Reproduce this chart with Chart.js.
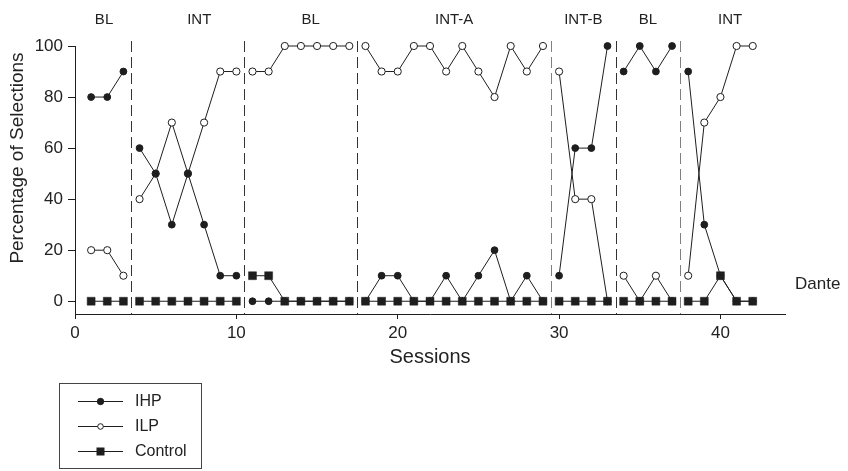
<!DOCTYPE html>
<html>
<head>
<meta charset="utf-8">
<script src="https://cdn.jsdelivr.net/npm/chart.js@4/dist/chart.umd.min.js"></script>
<style>
  html, body { margin: 0; padding: 0; background: #fff; }
  #wrap { width: 848px; height: 471px; position: relative; }
</style>
</head>
<body>
<div id="wrap"><canvas id="c" width="848" height="471"></canvas></div>
<script>
// ---- data ----
const sessions = [1,2,3,4,5,6,7,8,9,10,11,12,13,14,15,16,17,18,19,20,21,22,23,24,25,26,27,28,29,30,31,32,33,34,35,36,37,38,39,40,41,42];
const ihp     = [80,80,90, 60,50,30,50,30,10,10, 0,0,0,0,0,0,0, 0,10,10,0,0,10,0,10,20,0,10,0, 10,60,60,100, 90,100,90,100, 90,30,10,0,0];
const ilp     = [20,20,10, 40,50,70,50,70,90,90, 90,90,100,100,100,100,100, 100,90,90,100,100,90,100,90,80,100,90,100, 90,40,40,0, 10,0,10,0, 10,70,80,100,100];
const control = [0,0,0, 0,0,0,0,0,0,0, 10,10,0,0,0,0,0, 0,0,0,0,0,0,0,0,0,0,0,0, 0,0,0,0, 0,0,0,0, 0,0,10,0,0];
const phaseBreaks = [3.5, 10.5, 17.5, 29.5, 33.5, 37.5];
const phaseLabels = ['BL', 'INT', 'BL', 'INT-A', 'INT-B', 'BL', 'INT'];
const phaseLabelSession = [1.8, 7.7, 14.6, 23.5, 31.5, 35.5, 40.6];
const xTicks = [0, 10, 20, 30, 40];
const yTicks = [0, 20, 40, 60, 80, 100];
const seriesNames = ['IHP', 'ILP', 'Control'];
const participant = 'Dante';
const xTitle = 'Sessions';
const yTitle = 'Percentage of Selections';

// ---- build data with gaps at phase changes ----
function build(values) {
  const out = [];
  for (let i = 0; i < sessions.length; i++) {
    if (i > 0) {
      for (const b of phaseBreaks) {
        if (sessions[i - 1] < b && sessions[i] > b) out.push({ x: b, y: null });
      }
    }
    out.push({ x: sessions[i], y: values[i] });
  }
  return out;
}

const INK = '#1e1e1e';
const FONT = '"Liberation Sans", Arial, Helvetica, sans-serif';

const decor = {
  id: 'decor',
  beforeDatasetsDraw(chart) {
    const ctx = chart.ctx, x = chart.scales.x, a = chart.chartArea;
    ctx.save();
    ctx.lineWidth = 1;
    phaseBreaks.forEach((b, i) => {
      const px = Math.round(x.getPixelForValue(b)) + 0.5;
      ctx.strokeStyle = (i === 3 || i === 5) ? '#808080' : '#333';
      ctx.setLineDash([11, 5]);
      ctx.beginPath();
      ctx.moveTo(px, 41);
      ctx.lineTo(px, a.bottom);
      ctx.stroke();
    });
    ctx.restore();
  },
  afterDraw(chart) {
    const ctx = chart.ctx, x = chart.scales.x, y = chart.scales.y, a = chart.chartArea;
    ctx.save();
    ctx.fillStyle = '#222';
    // phase labels
    ctx.font = '15px ' + FONT;
    ctx.textAlign = 'center';
    ctx.textBaseline = 'middle';
    phaseLabels.forEach((t, i) => {
      ctx.fillText(t, x.getPixelForValue(phaseLabelSession[i]), 20);
    });
    // participant
    ctx.font = '17px ' + FONT;
    ctx.textAlign = 'left';
    ctx.fillText(participant, 795, 284);
    // axis titles
    ctx.font = '20px ' + FONT;
    ctx.textAlign = 'center';
    ctx.fillText(xTitle, (a.left + a.right) / 2, 357);
    ctx.save();
    ctx.translate(18, 158);
    ctx.rotate(-Math.PI / 2);
    ctx.font = '19px ' + FONT;
    ctx.fillText(yTitle, 0, 0);
    ctx.restore();
    // legend
    ctx.strokeStyle = '#444';
    ctx.lineWidth = 1;
    ctx.setLineDash([]);
    ctx.strokeRect(59.5, 383.5, 142, 85);
    const rows = [401, 426, 451];
    chart.data.datasets.forEach((ds, i) => {
      const ry = rows[i];
      ctx.strokeStyle = INK;
      ctx.beginPath();
      ctx.moveTo(78, ry + 0.5);
      ctx.lineTo(123, ry + 0.5);
      ctx.stroke();
      ctx.beginPath();
      if (ds.pointStyle === 'rect') {
        ctx.fillStyle = INK;
        ctx.fillRect(96.5, ry - 3.5, 8, 8);
      } else {
        ctx.arc(100.5, ry + 0.5, i === 0 ? 3.2 : 2.8, 0, Math.PI * 2);
        ctx.fillStyle = ds.pointBackgroundColor;
        ctx.fill();
        ctx.strokeStyle = INK;
        ctx.stroke();
      }
      ctx.fillStyle = '#222';
      ctx.font = '16px ' + FONT;
      ctx.textAlign = 'left';
      ctx.fillText(seriesNames[i], 135, ry + 1);
    });
    ctx.restore();
  }
};

new Chart(document.getElementById('c'), {
  type: 'line',
  data: {
    datasets: [
      { label: seriesNames[0], data: build(ihp), order: 1, borderColor: INK, borderWidth: 1,
        pointRadius: 3.4, pointBackgroundColor: INK, pointBorderColor: INK, pointBorderWidth: 1 },
      { label: seriesNames[1], data: build(ilp), order: 2, borderColor: INK, borderWidth: 1,
        pointRadius: 3.6, pointBackgroundColor: '#ffffff', pointBorderColor: INK, pointBorderWidth: 1 },
      { label: seriesNames[2], data: build(control), order: 0, borderColor: INK, borderWidth: 1,
        pointStyle: 'rect', pointRadius: 5.6, pointBackgroundColor: INK, pointBorderColor: INK, pointBorderWidth: 0.5 }
    ]
  },
  options: {
    responsive: false,
    animation: false,
    devicePixelRatio: 1,
    spanGaps: false,
    clip: false,
    layout: { padding: { left: 0, right: 63, top: 46, bottom: 0 } },
    elements: { line: { tension: 0 } },
    plugins: { legend: { display: false }, tooltip: { enabled: false } },
    scales: {
      x: {
        type: 'linear', min: 0, max: 44,
        afterBuildTicks: (s) => { s.ticks = xTicks.map(v => ({ value: v })); },
        afterFit: (s) => { s.height = 157; },
        ticks: { color: '#222', font: { family: FONT, size: 17 }, padding: 4, maxRotation: 0 },
        grid: { display: true, drawOnChartArea: false, drawTicks: true, tickLength: 5, color: INK },
        border: { display: true, color: INK, width: 1 }
      },
      y: {
        type: 'linear', min: -5, max: 100,
        afterBuildTicks: (s) => { s.ticks = yTicks.map(v => ({ value: v })); },
        afterFit: (s) => { s.width = 75; },
        ticks: { color: '#222', font: { family: FONT, size: 17 }, padding: 5 },
        grid: { display: true, drawOnChartArea: false, drawTicks: true, tickLength: 7, color: INK },
        border: { display: true, color: INK, width: 1 }
      }
    }
  },
  plugins: [decor]
});
</script>
</body>
</html>
